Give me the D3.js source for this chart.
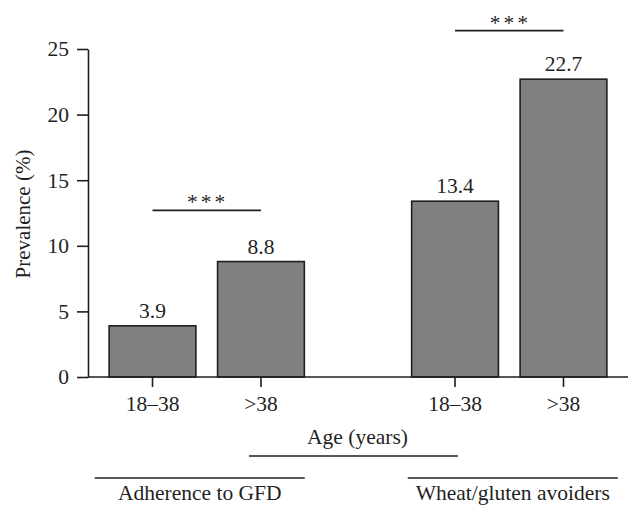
<!DOCTYPE html>
<html>
<head>
<meta charset="utf-8">
<script src="https://cdn.jsdelivr.net/npm/d3@7"></script>
<style>
  body { margin: 0; background: #fff; }
</style>
</head>
<body>
<div id="chart"></div>
<script>
'use strict';

// chart values
const groups = ['Adherence to GFD', 'Wheat/gluten avoiders'];
const ageClasses = ['18\u201338', '>38'];
const prevalence = [[3.9, 8.8], [13.4, 22.7]];
const valueLabels = [['3.9', '8.8'], ['13.4', '22.7']];
const sigLevels = [12.7, 26.4];
const sigMarks = ['***', '***'];
const yTicks = [0, 5, 10, 15, 20, 25];

const width = 643;
const height = 520;
const ink = '#1f1f1f';
const barFill = '#808080';
const fontSize = 21.5;
const serif = '"Liberation Serif", "DejaVu Serif", serif';
const groupLabelShift = [-7, 3.5];
const groupLineHalf = 105;

const svg = d3.select('#chart').append('svg')
  .attr('width', width)
  .attr('height', height)
  .attr('font-family', serif)
  .style('font-family', serif);

const yScale = d3.scaleLinear()
  .domain([0, 25])
  .range([377, 49]);

const groupScale = d3.scaleBand()
  .domain(groups)
  .range([88, 628])
  .paddingInner(0.283)
  .paddingOuter(0.034);

const ageScale = d3.scaleBand()
  .domain(ageClasses)
  .range([0, groupScale.bandwidth()])
  .paddingInner(0.2)
  .paddingOuter(0.1);

const barX = (g, a) => groupScale(g) + ageScale(a);
const barMid = (g, a) => barX(g, a) + ageScale.bandwidth() / 2;
const groupMid = (g, i) => groupScale(g) + groupScale.bandwidth() / 2 + groupLabelShift[i];

// y axis
const yAxis = d3.axisLeft(yScale)
  .tickValues(yTicks)
  .tickSize(11)
  .tickSizeOuter(0)
  .tickPadding(8);

const yAxisElement = svg.append('g')
  .attr('transform', 'translate(88,0)')
  .call(yAxis)
  .attr('font-family', null)
  .attr('font-size', null);

yAxisElement.select('.domain').attr('stroke', ink).attr('stroke-width', 1.6);
yAxisElement.selectAll('.tick line').attr('stroke', ink).attr('stroke-width', 1.6);
yAxisElement.selectAll('.tick text')
  .style('font-family', serif)
  .style('font-size', fontSize + 'px')
  .attr('fill', ink);

svg.append('text')
  .attr('transform', 'translate(30,' + ((yScale(0) + yScale(25)) / 2 + 1) + ') rotate(-90)')
  .attr('text-anchor', 'middle')
  .attr('fill', ink)
  .style('font-size', '21px')
  .text('Prevalence (%)');

// bars
const barData = [];
groups.forEach(function (g, gi) {
  ageClasses.forEach(function (a, ai) {
    barData.push({ group: g, age: a, value: prevalence[gi][ai], label: valueLabels[gi][ai] });
  });
});

const bars = svg.selectAll('.bar')
  .data(barData)
  .enter().append('g')
  .attr('class', 'bar');

bars.append('rect')
  .attr('x', d => barX(d.group, d.age))
  .attr('y', d => yScale(d.value))
  .attr('width', ageScale.bandwidth())
  .attr('height', d => yScale(0) - yScale(d.value))
  .attr('fill', barFill)
  .attr('stroke', ink)
  .attr('stroke-width', 1.6);

bars.append('text')
  .attr('x', d => barMid(d.group, d.age))
  .attr('y', d => yScale(d.value) - 8)
  .attr('text-anchor', 'middle')
  .attr('fill', ink)
  .style('font-size', fontSize + 'px')
  .text(d => d.label);

// x axis line with ticks under each bar
svg.append('line')
  .attr('x1', 88)
  .attr('x2', groupScale.range()[1])
  .attr('y1', yScale(0))
  .attr('y2', yScale(0))
  .attr('stroke', ink)
  .attr('stroke-width', 1.6);

const xTicks = svg.selectAll('.xtick')
  .data(barData)
  .enter().append('g')
  .attr('class', 'xtick')
  .attr('transform', d => 'translate(' + barMid(d.group, d.age) + ',' + yScale(0) + ')');

xTicks.append('line')
  .attr('y2', 10)
  .attr('stroke', ink)
  .attr('stroke-width', 1.6);

xTicks.append('text')
  .attr('y', 34)
  .attr('text-anchor', 'middle')
  .attr('fill', ink)
  .style('font-size', fontSize + 'px')
  .text(d => d.age);

// significance brackets
const sig = svg.selectAll('.sig')
  .data(groups)
  .enter().append('g')
  .attr('class', 'sig');

sig.append('line')
  .attr('x1', d => barMid(d, ageClasses[0]))
  .attr('x2', d => barMid(d, ageClasses[1]))
  .attr('y1', (d, i) => yScale(sigLevels[i]))
  .attr('y2', (d, i) => yScale(sigLevels[i]))
  .attr('stroke', ink)
  .attr('stroke-width', 1.6);

sig.append('text')
  .attr('x', d => (barMid(d, ageClasses[0]) + barMid(d, ageClasses[1])) / 2 + 1)
  .attr('y', (d, i) => yScale(sigLevels[i]) - 1)
  .attr('text-anchor', 'middle')
  .attr('fill', ink)
  .style('font-size', fontSize + 'px')
  .style('letter-spacing', '3px')
  .text((d, i) => sigMarks[i]);

// x axis title spanning the two groups
const ageLineX1 = barMid(groups[0], ageClasses[1]) - 12;
const ageLineX2 = barMid(groups[1], ageClasses[0]) + 3;

svg.append('text')
  .attr('x', (ageLineX1 + ageLineX2) / 2 + 4)
  .attr('y', 444)
  .attr('text-anchor', 'middle')
  .attr('fill', ink)
  .style('font-size', fontSize + 'px')
  .text('Age (years)');

svg.append('line')
  .attr('x1', ageLineX1)
  .attr('x2', ageLineX2)
  .attr('y1', 456)
  .attr('y2', 456)
  .attr('stroke', ink)
  .attr('stroke-width', 1.6);

// group labels
const groupLabels = svg.selectAll('.grouplabel')
  .data(groups)
  .enter().append('g')
  .attr('class', 'grouplabel');

groupLabels.append('line')
  .attr('x1', (d, i) => groupMid(d, i) - groupLineHalf)
  .attr('x2', (d, i) => groupMid(d, i) + groupLineHalf)
  .attr('y1', 478)
  .attr('y2', 478)
  .attr('stroke', ink)
  .attr('stroke-width', 1.6);

groupLabels.append('text')
  .attr('x', (d, i) => groupMid(d, i))
  .attr('y', 500)
  .attr('text-anchor', 'middle')
  .attr('fill', ink)
  .style('font-size', fontSize + 'px')
  .text(d => d);
</script>
</body>
</html>
